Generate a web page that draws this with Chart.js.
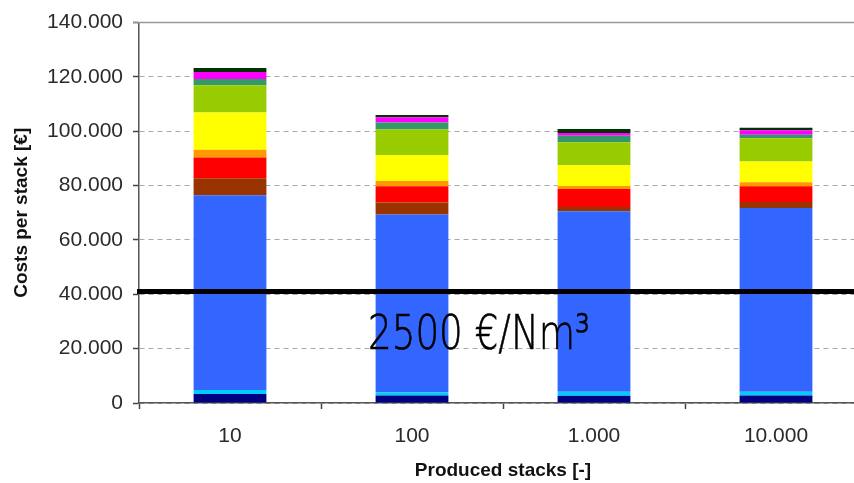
<!DOCTYPE html>
<html>
<head>
<meta charset="utf-8">
<script src="https://cdn.jsdelivr.net/npm/chart.js@4"></script>
<style>
  html, body { margin: 0; padding: 0; background: #fff; overflow: hidden; }
</style>
</head>
<body>
<canvas id="costChart" width="880" height="483"></canvas>
<script>
/* categories and tick labels */
const producedStacks = ['10', '100', '1.000', '10.000'];
const yTickLabels = ['0', '20.000', '40.000', '60.000', '80.000', '100.000', '120.000', '140.000'];

/* cost components per stack, bottom to top */
const navyPart = [3300, 2800, 2650, 2800];
const cyanPart = [1450, 1200, 1450, 1300];
const bluePart = [71700, 65400, 66500, 67700];
const brownPart = [6300, 4350, 1550, 2200];
const redPart = [7600, 6050, 6650, 5800];
const orangePart = [2900, 1900, 1100, 1450];
const yellowPart = [13700, 9600, 7600, 7600];
const yellowGreenPart = [10000, 9400, 8500, 8600];
const tealPart = [2300, 2550, 2400, 1300];
const magentaPart = [2550, 1900, 1000, 1600];
const blackPart = [1450, 850, 1450, 950];

/* target line */
const targetCost = 41000;
const targetLabel = '2500 €/Nm³';

const parts = [
    ['Component 1', navyPart, '#000080'],
    ['Component 2', cyanPart, '#00ccff'],
    ['Component 3', bluePart, '#3366ff'],
    ['Component 4', brownPart, '#993300'],
    ['Component 5', redPart, '#ff0000'],
    ['Component 6', orangePart, '#ff9900'],
    ['Component 7', yellowPart, '#ffff00'],
    ['Component 8', yellowGreenPart, '#99cc00'],
    ['Component 9', tealPart, '#339966'],
    ['Component 10', magentaPart, '#ff00ff'],
    ['Component 11', blackPart, '#003300'],
];

const datasets = parts.map(([label, data, color]) => ({
    label: label,
    data: data,
    backgroundColor: color,
    borderWidth: 0,
    categoryPercentage: 1,
    barPercentage: 0.4,
}));

/* solid top line, thick target line and its label */
const overlayPlugin = {
    id: 'overlay',
    beforeDatasetsDraw(chart) {
        const { ctx, chartArea, scales } = chart;
        const yTop = scales.y.getPixelForValue(140000);
        ctx.save();
        ctx.strokeStyle = '#999';
        ctx.lineWidth = 1.5;
        ctx.beginPath();
        ctx.moveTo(chartArea.left - 6, yTop);
        ctx.lineTo(chartArea.right, yTop);
        ctx.stroke();
        ctx.restore();
    },
    afterDatasetsDraw(chart) {
        const { ctx, chartArea, scales } = chart;
        const yLine = scales.y.getPixelForValue(targetCost);
        ctx.save();
        ctx.strokeStyle = '#000';
        ctx.lineWidth = 5;
        ctx.beginPath();
        ctx.moveTo(chartArea.left - 2, yLine);
        ctx.lineTo(chartArea.right, yLine);
        ctx.stroke();

        /* label is a narrow light face; squeeze it to the width seen in the picture */
        ctx.fillStyle = '#000';
        ctx.font = '200 48px "DejaVu Sans", sans-serif';
        ctx.textAlign = 'left';
        ctx.textBaseline = 'alphabetic';
        const w = ctx.measureText(targetLabel).width;
        const sx = 222 / w;
        ctx.translate(chartArea.left + 229, yLine + 57);
        ctx.scale(sx, 1);
        ctx.lineWidth = 0.6;
        ctx.fillText(targetLabel, 0, 0);
        ctx.strokeText(targetLabel, 0, 0);
        ctx.restore();
    },
};

const tickFont = { family: '"Liberation Sans", Arial, sans-serif', size: 21 };
const titleFont = { family: '"Liberation Sans", Arial, sans-serif', size: 19, weight: 'bold' };

new Chart(document.getElementById('costChart'), {
    type: 'bar',
    data: {
        labels: producedStacks,
        datasets: datasets,
    },
    options: {
        responsive: false,
        animation: false,
        devicePixelRatio: 1,
        layout: { padding: { top: 17, right: 13, left: 0, bottom: 0 } },
        plugins: {
            legend: { display: false },
            tooltip: { enabled: false },
        },
        scales: {
            x: {
                stacked: true,
                offset: true,
                grid: {
                    offset: true,
                    drawOnChartArea: false,
                    tickLength: 6,
                    tickColor: '#444',
                    tickWidth: 1.5,
                },
                border: { color: '#555', width: 1.5 },
                ticks: { font: tickFont, color: '#2a2a2a', padding: 15 },
                title: {
                    display: true,
                    text: 'Produced stacks [-]',
                    font: titleFont,
                    color: '#111',
                    padding: { top: 0, bottom: 1 },
                },
                afterFit: (scale) => { scale.height = 80; },
            },
            y: {
                stacked: true,
                min: 0,
                max: 140000,
                ticks: {
                    stepSize: 20000,
                    font: tickFont,
                    color: '#2a2a2a',
                    padding: 10,
                    callback: (value, index) => yTickLabels[index],
                },
                grid: {
                    color: '#a8a8a8',
                    lineWidth: 1,
                    tickLength: 6,
                    tickColor: '#444',
                    tickWidth: 1.5,
                    tickBorderDash: [],
                },
                border: { color: '#555', width: 1.5, dash: [5, 4] },
                title: {
                    display: true,
                    text: 'Costs per stack [€]',
                    font: titleFont,
                    color: '#111',
                    padding: { top: 10, bottom: 0 },
                },
                afterFit: (scale) => { scale.width = 139; },
            },
        },
    },
    plugins: [overlayPlugin],
});
</script>
</body>
</html>
